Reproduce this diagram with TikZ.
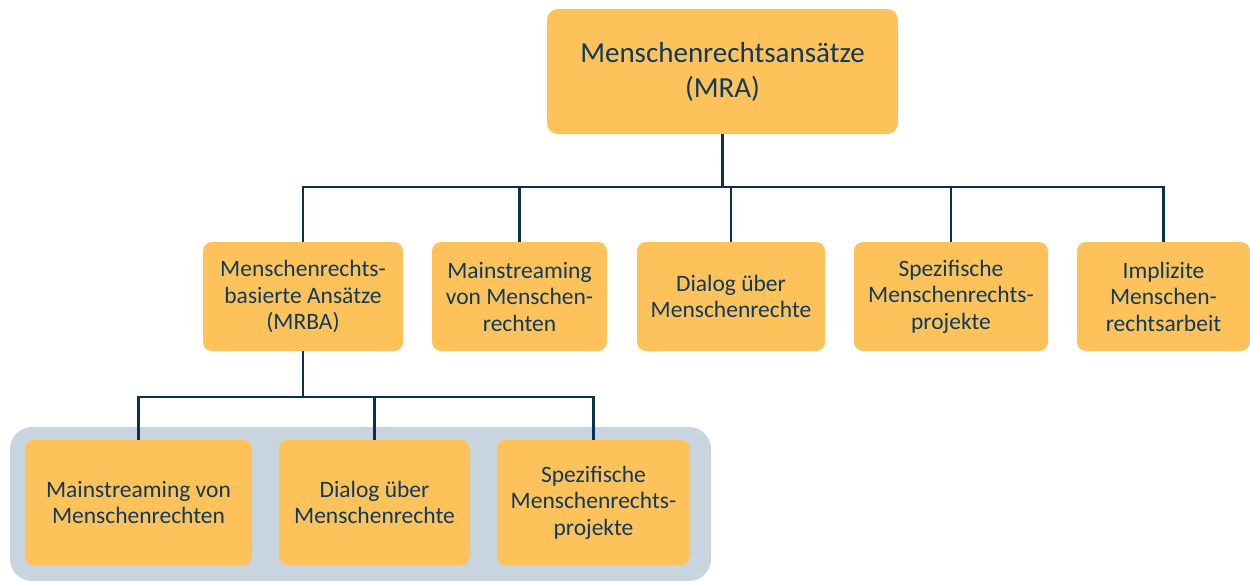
\documentclass[tikz,border=0pt]{standalone}
\usepackage{fontspec}
\setmainfont{Carlito}
\definecolor{boxfill}{HTML}{FEC25B}
\definecolor{txt}{HTML}{103A5C}
\definecolor{linec}{HTML}{0C2F4F}
\definecolor{groupbg}{HTML}{C8D4DE}
\begin{document}
\begin{tikzpicture}[x=1pt,y=-1pt,
  box/.style={draw=none,fill=boxfill,rounded corners=9pt,align=center,text=txt,
    inner sep=0pt,font=\fontsize{23.5}{26.5}\selectfont},
  topbox/.style={box,font=\fontsize{29}{35}\selectfont,rounded corners=11pt},
  conn/.style={draw=linec,line width=2.6pt}]
\useasboundingbox (0,0) rectangle (1250,581);
\fill[groupbg,rounded corners=22pt] (10,427) rectangle (711,581);
\node[topbox,minimum width=351pt,minimum height=125pt] (top) at (722.5,71.5) {Menschenrechtsansätze\\(MRA)};
\node[box,minimum width=200pt,minimum height=109pt] (b1) at (303,296.5) {Menschenrechts-\\basierte Ansätze\\(MRBA)};
\node[box,minimum width=175pt,minimum height=109pt] (b2) at (519.5,296.5) {Mainstreaming\\von Menschen-\\rechten};
\node[box,minimum width=188pt,minimum height=109pt] (b3) at (731,296.5) {Dialog über\\Menschenrechte};
\node[box,minimum width=194pt,minimum height=109pt] (b4) at (951,296.5) {Spezifische\\Menschenrechts-\\projekte};
\node[box,minimum width=173pt,minimum height=109pt] (b5) at (1163.5,296.5) {Implizite\\Menschen-\\rechtsarbeit};
\node[box,minimum width=227pt,minimum height=125pt] (c1) at (138.5,502.5) {Mainstreaming von\\Menschenrechten};
\node[box,minimum width=191pt,minimum height=125pt] (c2) at (374.5,502.5) {Dialog über\\Menschenrechte};
\node[box,minimum width=193pt,minimum height=125pt] (c3) at (593.5,502.5) {Spezifische\\Menschenrechts-\\projekte};
\coordinate (j1) at (722,187);
\coordinate (j2) at (302,397);
\draw[conn] (top.south) -- (top.south |- j1);
\draw[conn] (b1.north) -- (b1.north |- j1) -- (b5.north |- j1) -- (b5.north);
\draw[conn] (b2.north) -- (b2.north |- j1);
\draw[conn] (b3.north) -- (b3.north |- j1);
\draw[conn] (b4.north) -- (b4.north |- j1);
\draw[conn] (b1.south) -- (b1.south |- j2);
\draw[conn] (c1.north) -- (c1.north |- j2) -- (c3.north |- j2) -- (c3.north);
\draw[conn] (c2.north) -- (c2.north |- j2);
\end{tikzpicture}
\end{document}
